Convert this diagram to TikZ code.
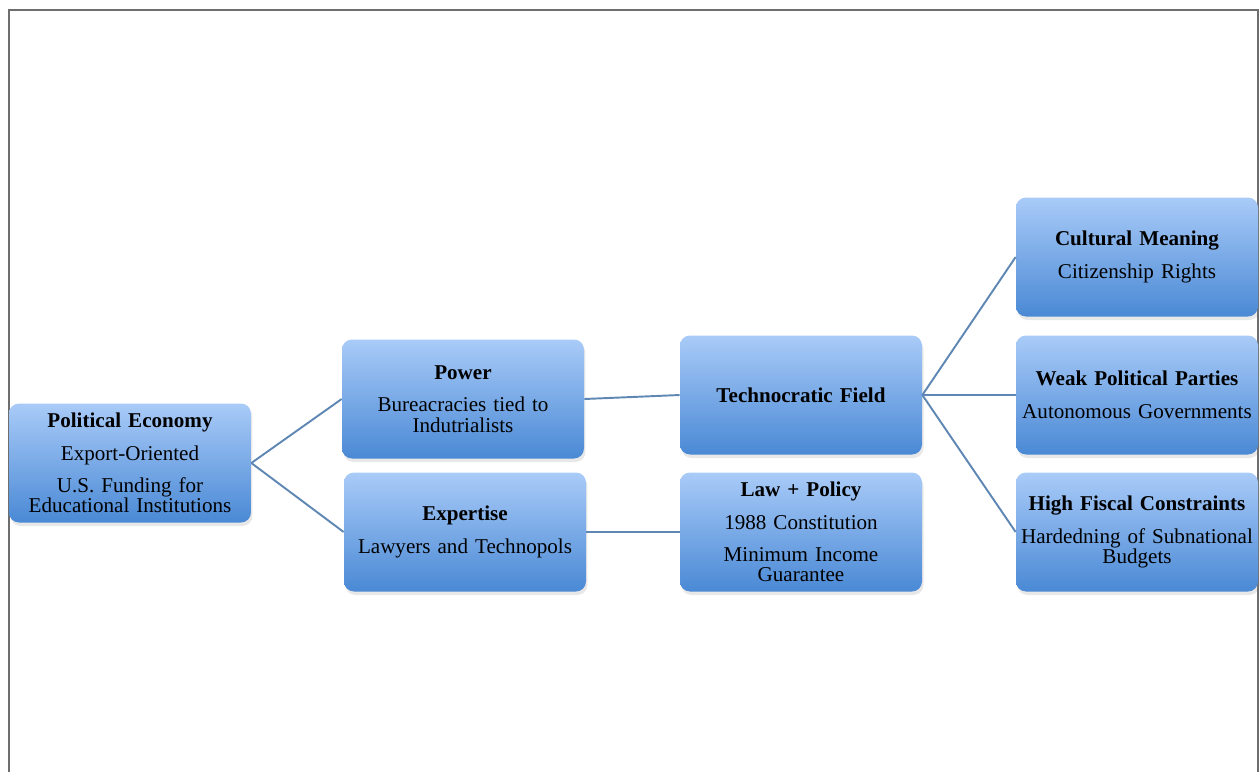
\documentclass[tikz,border=0pt]{standalone}
\usepackage{fontspec}
\setmainfont{Liberation Serif}
\usetikzlibrary{shadows}
\definecolor{boxtop}{HTML}{A9CBF8}
\definecolor{boxbot}{HTML}{4A89D5}
\definecolor{linkblue}{HTML}{5F87B4}
\definecolor{framegray}{HTML}{6E6E6E}

\begin{document}
\begin{tikzpicture}[x=0.02cm, y=-0.02cm,
    box/.style={rounded corners=0.2cm, top color=boxtop, bottom color=boxbot,
      minimum width=4.8cm, minimum height=2.38cm, text width=4.7cm, align=center,
      inner sep=2pt, font=\fontsize{12}{11.5}\selectfont,
      drop shadow={opacity=0.18, shadow xshift=0.03cm, shadow yshift=-0.07cm}},
    link/.style={draw=linkblue, line width=1.1pt}]
    \useasboundingbox (0,0) rectangle (1260,772);

    % Frame
    \draw[framegray, line width=1.3pt] (9,772) -- (9,10) -- (1258,10) -- (1258,772);

    % Root
    \node[box] (polecon) at (130,463) {\textbf{Political Economy}\\[7pt]
      Export-Oriented\\[7pt] U.S. Funding for\\ Educational Institutions};

    % Second level
    \node[box] (power) at (463,399) {\textbf{Power}\\[7pt]
      Bureacracies tied to\\ Indutrialists};
    \node[box] (expertise) at (465,532) {\textbf{Expertise}\\[7pt]
      Lawyers and Technopols};

    % Third level
    \node[box] (techfield) at (801,395) {\textbf{Technocratic Field}};
    \node[box] (lawpolicy) at (801,532) {\textbf{Law + Policy}\\[7pt]
      1988 Constitution\\[7pt] Minimum Income\\ Guarantee};

    % Outcomes
    \node[box] (culture) at (1137,257) {\textbf{Cultural Meaning}\\[7pt]
      Citizenship Rights};
    \node[box] (parties) at (1137,395) {\textbf{Weak Political Parties}\\[7pt]
      Autonomous Governments};
    \node[box] (fiscal) at (1137,532) {\textbf{High Fiscal Constraints}\\[7pt]
      Hardedning of Subnational\\ Budgets};

    % Links
    \draw[link] (polecon.east) -- (power.west);
    \draw[link] (polecon.east) -- (expertise.west);
    \draw[link] (power.east) -- (techfield.west);
    \draw[link] (expertise.east) -- (lawpolicy.west);
    \draw[link] (techfield.east) -- (culture.west);
    \draw[link] (techfield.east) -- (parties.west);
    \draw[link] (techfield.east) -- (fiscal.west);
\end{tikzpicture}
\end{document}
